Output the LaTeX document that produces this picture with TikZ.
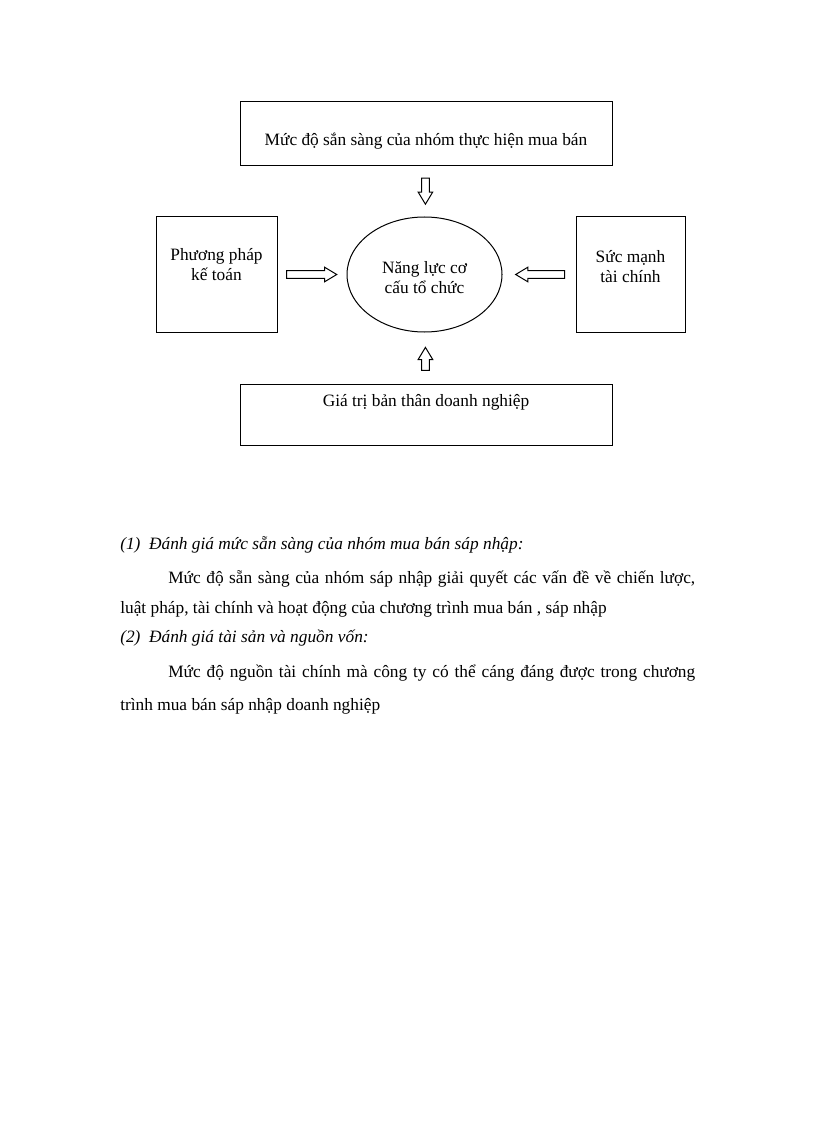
\documentclass[tikz,border=0pt]{standalone}
\usepackage{fontspec}
\setmainfont{Liberation Serif}
\usetikzlibrary{shapes.geometric,shapes.arrows}

\begin{document}
\begin{tikzpicture}[x=0.75pt,y=-0.75pt]
	\tikzstyle{box_plain} = [rectangle, draw=black, line width=0.75pt, inner sep=0pt, align=center, font=\fontsize{13pt}{15pt}\selectfont]
	\tikzstyle{box_round} = [ellipse, draw=black, line width=0.75pt, inner sep=0pt, align=center, font=\fontsize{13pt}{15pt}\selectfont]
	\tikzstyle{block_arrow} = [single arrow, draw=black, line width=0.75pt, inner sep=2.5pt, single arrow head extend=2.6pt, single arrow tip angle=62]
	\tikzstyle{text_line} = [anchor=base west, inner sep=0pt, font=\fontsize{13pt}{15pt}\selectfont]
	\tikzstyle{text_italic} = [text_line, font=\fontsize{13pt}{15pt}\selectfont\itshape]

	\useasboundingbox (0,0) rectangle (816,1123);

%------------------------------------------------------------
	\node[box_plain, minimum width=279pt, minimum height=48pt, text height=18pt, text depth=0pt] (readiness) at (426,134) {Mức độ sắn sàng của nhóm thực hiện mua bán};

	\node[box_plain, minimum width=90.75pt, minimum height=86.25pt, text height=8.25pt, text depth=0pt] (method) at (216.5,274.5) {Phương pháp\\kế toán};
	\node[box_round, minimum width=116.25pt, minimum height=86.25pt, text height=27.75pt, text depth=0pt] (capacity) at (424.5,274.5) {Năng lực cơ\\cấu tổ chức};
	\node[box_plain, minimum width=81.75pt, minimum height=86.25pt, text height=11.25pt, text depth=0pt] (strength) at (630.5,274.5) {Sức mạnh\\tài chính};

	\node[box_plain, minimum width=279pt, minimum height=45.75pt, text height=0pt, text depth=12.75pt] (value) at (426,414.5) {Giá trị bản thân doanh nghiệp};

%------------------------------------------------------------
	\path (readiness) -- node[block_arrow, pos=0.43, minimum height=19.5pt, rotate=-90] (arr_r) {} (capacity);
	\path (method) -- node[block_arrow, pos=0.45, minimum height=37.5pt] (arr_m) {} (capacity);
	\path (strength) -- node[block_arrow, pos=0.44, minimum height=36.75pt, rotate=180] (arr_s) {} (capacity);
	\path (value) -- node[block_arrow, pos=0.42, minimum height=17.25pt, rotate=90] (arr_v) {} (capacity);

%------------------------------------------------------------
	\node[text_italic] (line1) at (120,549) {(1)\ \ Đánh giá mức sẵn sàng của nhóm mua bán sáp nhập:};
	\node[text_line] (line2) at (168,583) {\makebox[395.25pt][s]{Mức độ sẵn sàng của nhóm sáp nhập giải quyết các vấn đề về chiến lược,}};
	\node[text_line] (line3) at (120,613) {luật pháp, tài chính và hoạt động của chương trình mua bán\ , sáp nhập};
	\node[text_italic] (line4) at (120,642) {(2)\ \ Đánh giá tài sản và nguồn vốn:};
	\node[text_line] (line5) at (168,677) {\makebox[395.25pt][s]{Mức độ nguồn tài chính mà công ty có thể cáng đáng được trong chương}};
	\node[text_line] (line6) at (120,710) {trình mua bán sáp nhập doanh nghiệp};

\end{tikzpicture}
\end{document}
